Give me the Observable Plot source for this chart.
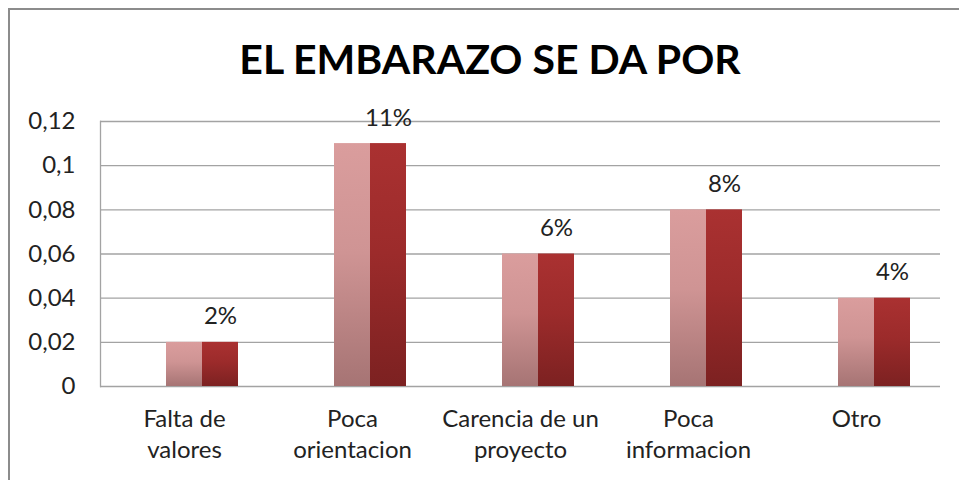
<!DOCTYPE html>
<html>
<head>
<meta charset="utf-8">
<script src="https://cdn.jsdelivr.net/npm/d3@7"></script>
<script src="https://cdn.jsdelivr.net/npm/@observablehq/plot@0.6"></script>
<style>
  html, body { margin: 0; padding: 0; background: #fff; }
  #wrap { position: relative; width: 959px; height: 480px; overflow: hidden; background: #fff; }
  #border { position: absolute; left: 8px; top: 8px; width: 960px; height: 480px;
            border-top: 2px solid #8c8c8c; border-left: 2px solid #8c8c8c; box-sizing: border-box; }
  #title { position: absolute; left: 0; top: 38px; width: 980px; text-align: center;
           font-family: Lato, "Open Sans", sans-serif; font-weight: 700; font-size: 41px;
           line-height: 41px; color: #000; }
  #chart { position: absolute; left: 0; top: 100px; }
</style>
</head>
<body>
<div id="wrap">
  <div id="border"></div>
  <div id="title">EL EMBARAZO SE DA POR</div>
  <div id="chart"></div>
</div>
<script>
// ---- data ----
const categories = ["Falta de valores", "Poca orientacion", "Carencia de un proyecto", "Poca informacion", "Otro"];
const categoryLabels = ["Falta de\nvalores", "Poca\norientacion", "Carencia de un\nproyecto", "Poca\ninformacion", "Otro"];
const seriesNames = ["Serie1", "Serie2", "Serie3"];
const serie2 = [0.02, 0.11, 0.06, 0.08, 0.04];
const serie3 = [0.02, 0.11, 0.06, 0.08, 0.04];
const valueLabels = ["2%", "11%", "6%", "8%", "4%"];
const yTicks = [0, 0.02, 0.04, 0.06, 0.08, 0.1, 0.12];

const rows2 = categories.map((c, i) => ({cat: c, series: "Serie2", value: serie2[i]}));
const rows3 = categories.map((c, i) => ({cat: c, series: "Serie3", value: serie3[i], label: valueLabels[i]}));
const catRows = categories.map((c, i) => ({cat: c, label: categoryLabels[i]}));

const defs = () => {
  const ns = "http://www.w3.org/2000/svg";
  const d = document.createElementNS(ns, "defs");
  d.innerHTML = `
    <linearGradient id="gPink" x1="0" y1="0" x2="0" y2="1">
      <stop offset="0" stop-color="#da9d9d"/>
      <stop offset="0.45" stop-color="#cf9494"/>
      <stop offset="1" stop-color="#a67474"/>
    </linearGradient>
    <linearGradient id="gRed" x1="0" y1="0" x2="0" y2="1">
      <stop offset="0" stop-color="#aa3131"/>
      <stop offset="0.45" stop-color="#9c2b2b"/>
      <stop offset="1" stop-color="#7c2121"/>
    </linearGradient>`;
  return d;
};

const chart = Plot.plot({
  width: 959,
  height: 380,
  marginTop: 21,
  marginBottom: 94,
  marginLeft: 98,
  marginRight: 18,
  style: {fontFamily: "Lato, 'Open Sans', sans-serif", fontSize: "24px", color: "#222", background: "transparent"},
  fx: {domain: categories, padding: 0, axis: null},
  x: {domain: seriesNames, paddingInner: 0, paddingOuter: 0.78, axis: null},
  y: {domain: [0, 0.12]},
  marks: [
    defs,
    Plot.ruleY(yTicks, {stroke: "#a3a3a3", strokeWidth: 1.3}),
    Plot.axisY(yTicks, {tickSize: 0, tickPadding: 25, fontSize: 24, fill: "#222", label: null,
      tickFormat: d => String(d).replace(".", ",")}),
    Plot.frame({anchor: "left", facetAnchor: "left", stroke: "#a3a3a3", strokeWidth: 1.3}),
    Plot.barY(rows2, {fx: "cat", x: "series", y: "value", fill: "url(#gPink)"}),
    Plot.barY(rows3, {fx: "cat", x: "series", y: "value", fill: "url(#gRed)"}),
    Plot.text(rows3, {fx: "cat", x: "series", y: "value", text: "label", lineAnchor: "bottom", dy: -18, fontSize: 24, fill: "#222"}),
    Plot.text(catRows, {fx: "cat", text: "label", frameAnchor: "bottom", lineAnchor: "top", dy: 18, lineHeight: 1.3, fontSize: 24, fill: "#222"})
  ]
});
document.getElementById("chart").appendChild(chart);
</script>
</body>
</html>
